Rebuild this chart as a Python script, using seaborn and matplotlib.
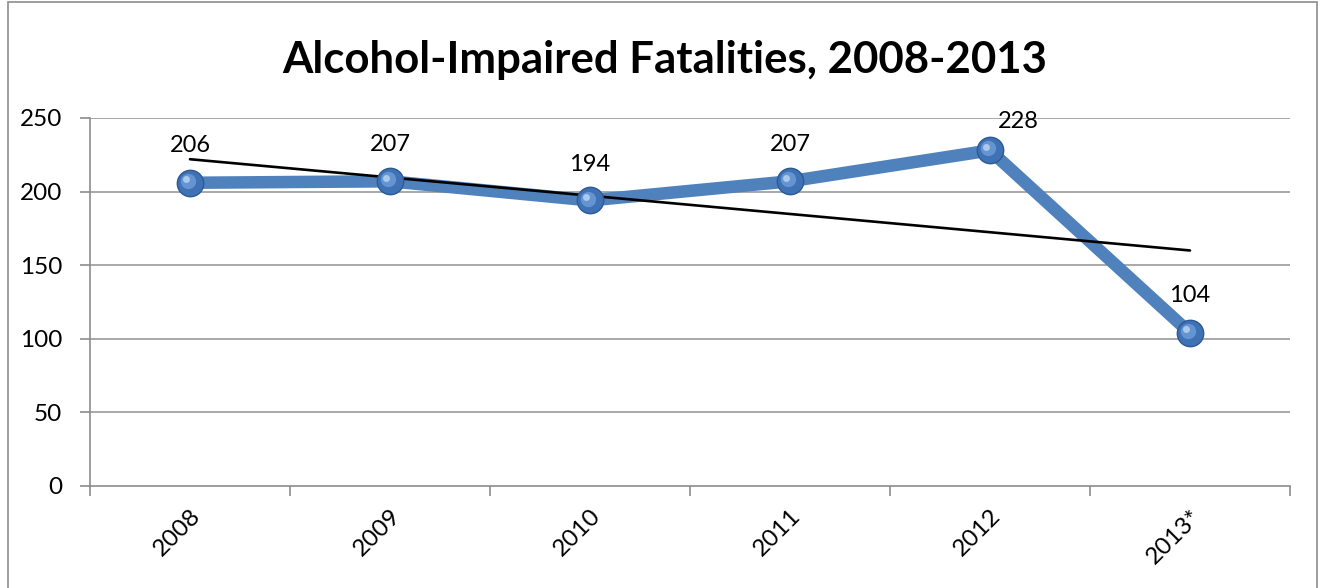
import numpy as np
import pandas as pd
import matplotlib
matplotlib.use("Agg")
import matplotlib.pyplot as plt
import seaborn as sns
from matplotlib.patches import Rectangle

# ---- data ----
years = ["2008", "2009", "2010", "2011", "2012", "2013*"]
fatalities = [206, 207, 194, 207, 228, 104]
y_ticks = [0, 50, 100, 150, 200, 250]
title = "Alcohol-Impaired Fatalities, 2008-2013"

sns.set_theme(style="white")
plt.rcParams["font.family"] = ["Lato", "DejaVu Sans"]
plt.rcParams["text.color"] = "black"
plt.rcParams["xtick.color"] = "black"
plt.rcParams["ytick.color"] = "black"

df = pd.DataFrame({"pos": np.arange(len(years)), "year": years, "value": fatalities})

fig = plt.figure(figsize=(13.22, 5.88), dpi=100)
ax = fig.add_axes([90 / 1322, 1 - 486 / 588, 1200 / 1322, 368 / 588])

line_color = "#4F81BD"
ax.set_ylim(0, 250)
ax.set_xlim(-0.5, len(years) - 0.5)
for t in y_ticks[1:]:
    ax.axhline(t, color="#9A9A9A", lw=1.2, zorder=0)

sns.lineplot(data=df, x="pos", y="value", ax=ax, color=line_color, lw=9,
             solid_joinstyle="round", solid_capstyle="round", zorder=2)
# markers (sphere-like)
ax.plot(df["pos"], df["value"], "o", ms=19, mfc="#3F72B5", mec="#2B5A94",
        mew=1.0, zorder=4)
ax.plot(df["pos"] - 0.012, df["value"] + 1.3, "o", ms=11, mfc="#6E9FDA",
        mec="none", alpha=0.8, zorder=5)
ax.plot(df["pos"] - 0.02, df["value"] + 2.5, "o", ms=5, mfc="#BFD6F2",
        mec="none", alpha=0.8, zorder=6)

# linear trend line
sns.regplot(data=df, x="pos", y="value", ax=ax, scatter=False, ci=None,
            truncate=True, line_kws={"color": "black", "lw": 1.9, "zorder": 3})

# data labels
offsets = [(0, 37), (0, 37), (0, 36), (0, 37), (28, 29), (0, 37)]
for (i, v), off in zip(enumerate(fatalities), offsets):
    ax.annotate(str(v), (i, v), xytext=off, textcoords="offset pixels",
                ha="center", va="center", fontsize=17, color="black", zorder=7)

ax.set_yticks(y_ticks)
ax.set_yticklabels([str(t) for t in y_ticks], fontsize=17.5)
ax.set_xticks(np.arange(len(years)))
ax.set_xticklabels(years, rotation=45, ha="right", rotation_mode="anchor",
                   fontsize=17.5)
ax.set_xticks(np.arange(len(years) + 1) - 0.5, minor=True)
ax.tick_params(axis="x", which="major", length=0, pad=14)
ax.tick_params(axis="x", which="minor", length=7, color="#8C8C8C", width=1.2,
               bottom=True, direction="out")
ax.tick_params(axis="y", length=7, color="#8C8C8C", width=1.2, left=True,
               direction="out", pad=13, labelcolor="black")
ax.tick_params(axis="x", labelcolor="black")
ax.set_xlabel("")
ax.set_ylabel("")
for s in ["top", "right"]:
    ax.spines[s].set_visible(False)
for s in ["left", "bottom"]:
    ax.spines[s].set_color("#8C8C8C")
    ax.spines[s].set_linewidth(1.2)

fig.text(665 / 1322, 1 - 60 / 588, title, ha="center", va="center",
         fontsize=31.5, fontweight="bold", color="black")

fig.patches.append(Rectangle((8 / 1322, -0.05), 1309 / 1322, 1.047,
                             transform=fig.transFigure, fill=False,
                             edgecolor="#8C8C8C", lw=1.2))

fig.savefig("out.png", dpi=100)
